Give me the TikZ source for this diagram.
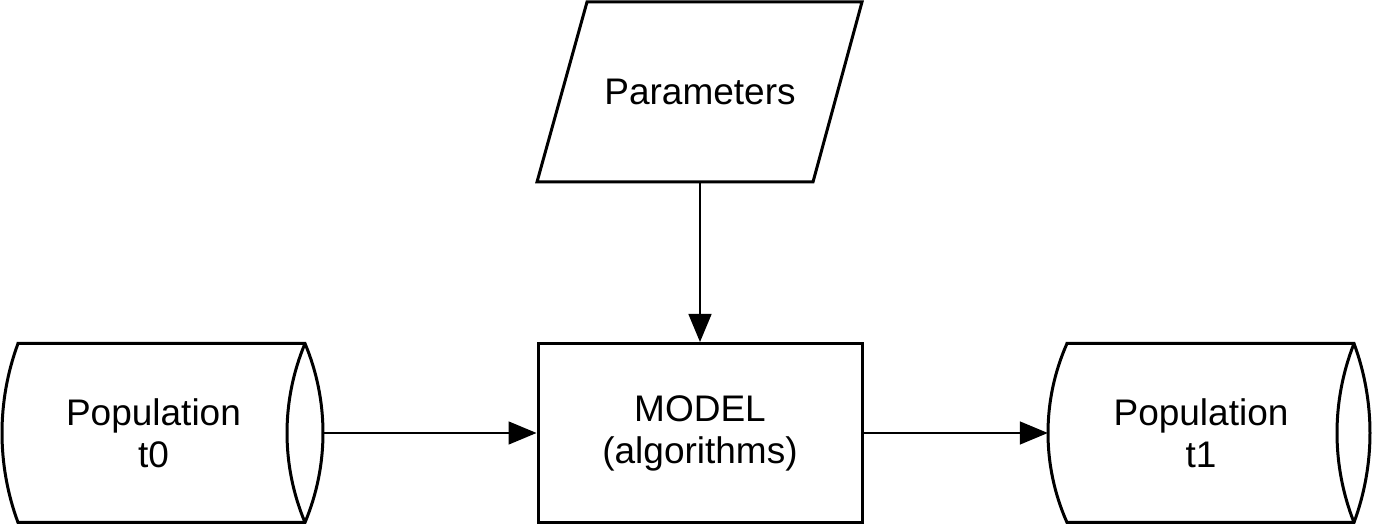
\documentclass[tikz,border=0pt]{standalone}
\usepackage{fontspec}
\setmainfont{Liberation Sans}
\usetikzlibrary{arrows.meta}
\tikzset{
  shapeline/.style={line width=3pt, line join=miter},
  txt/.style={inner sep=0pt, align=center, font=\fontsize{37}{42}\selectfont},
  conn/.style={line width=1.5pt, -{Triangle[length=28pt,width=23pt]}},
}
\begin{document}
\begin{tikzpicture}[x=1pt,y=1pt]
\useasboundingbox (0,0) rectangle (1374,526);
% nodes
\node[txt, minimum width=303pt, minimum height=179pt] (p0) at (153.5,93) {Population\\t0};
\node[txt, minimum width=306pt, minimum height=179pt] (p1) at (1201,93) {Population\\t1};
\node[txt, draw, line width=3pt, minimum width=324pt, minimum height=179pt] (model) at (700,93) {MODEL\\(algorithms)};
\node[txt, minimum width=276pt, minimum height=180pt] (params) at (700,434) {Parameters};
% parameters parallelogram
\draw[shapeline] (537,344) -- (587,524) -- (862,524) -- (813,344) -- cycle;
% left cylinder
\draw[shapeline] (18,182.5) -- (305,182.5) arc[start angle=22.74, end angle=-22.74, radius=231.5]
  -- (18,3.5) arc[start angle=200.27, end angle=159.73, radius=258.3] -- cycle;
\draw[shapeline] (305,182.5) arc[start angle=157.26, end angle=202.74, radius=231.5];
% right cylinder
\draw[shapeline] (1067,182.5) -- (1354,182.5) arc[start angle=20.27, end angle=-20.27, radius=258.3]
  -- (1067,3.5) arc[start angle=203.97, end angle=156.03, radius=220.3] -- cycle;
\draw[shapeline] (1354,182.5) arc[start angle=158.49, end angle=201.51, radius=244.1];
\coordinate (p0out) at (323,93);
% connectors
\draw[conn] (params.south) -- (model.north);
\draw[conn] (p0out) -- (model.west);
\draw[conn] (model.east) -- (p1.west);
\end{tikzpicture}
\end{document}
